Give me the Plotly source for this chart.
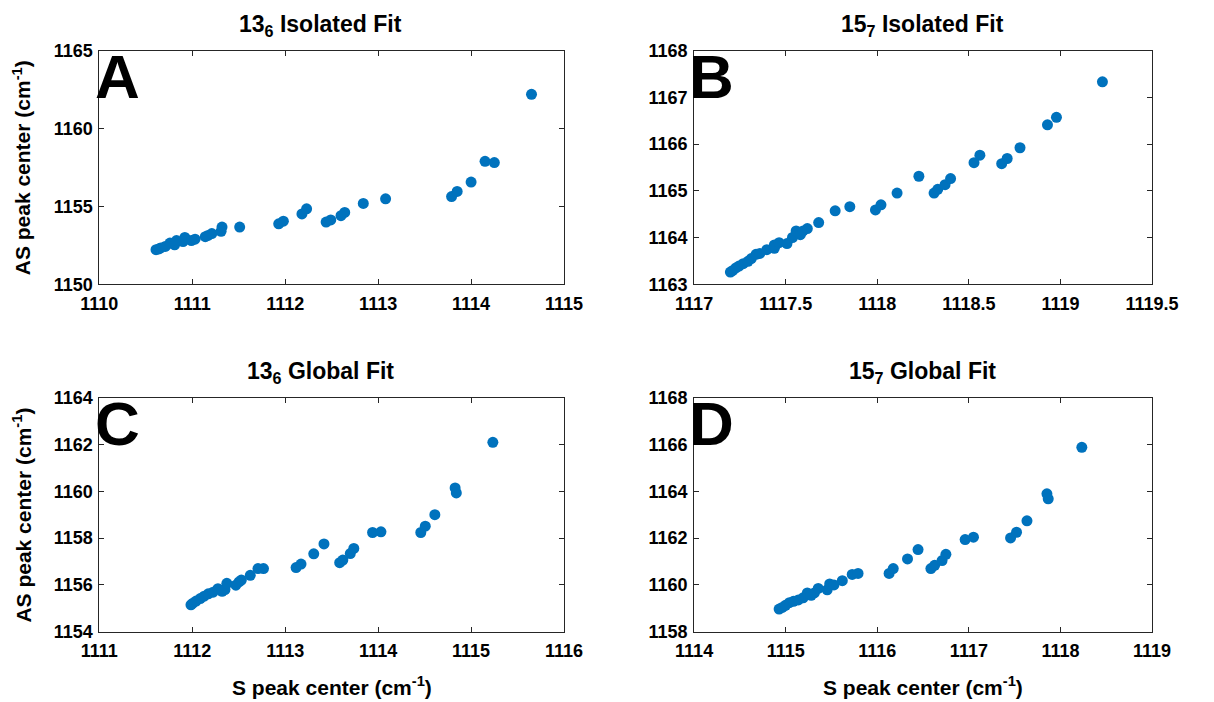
import plotly.graph_objects as go

# Panel A: 13_6 Isolated Fit
a_s = [1110.61, 1110.64, 1110.66, 1110.71, 1110.76, 1110.81, 1110.83, 1110.90, 1110.92, 1110.99,
       1111.03, 1111.14, 1111.17, 1111.21, 1111.31, 1111.32, 1111.51, 1111.93, 1111.98, 1112.18,
       1112.23, 1112.44, 1112.49, 1112.60, 1112.64, 1112.84, 1113.08, 1113.79, 1113.85, 1114.00,
       1114.15, 1114.25, 1114.65]
a_as = [1152.22, 1152.27, 1152.33, 1152.43, 1152.64, 1152.53, 1152.80, 1152.74, 1153.00, 1152.80,
        1152.89, 1153.05, 1153.13, 1153.25, 1153.40, 1153.67, 1153.67, 1153.88, 1154.05, 1154.51,
        1154.84, 1153.99, 1154.13, 1154.40, 1154.61, 1155.19, 1155.48, 1155.63, 1155.96, 1156.56,
        1157.89, 1157.81, 1162.19]

# Panel B: 15_7 Isolated Fit
b_s = [1117.198, 1117.21, 1117.228, 1117.245, 1117.268, 1117.294, 1117.312, 1117.338, 1117.359, 1117.397,
       1117.438, 1117.438, 1117.464, 1117.507, 1117.537, 1117.557, 1117.58, 1117.595, 1117.618, 1117.68,
       1117.77, 1117.85, 1117.99, 1118.02, 1118.108, 1118.227, 1118.31, 1118.33, 1118.37, 1118.40,
       1118.528, 1118.56, 1118.679, 1118.709, 1118.779, 1118.929, 1118.978, 1119.229]
b_as = [1163.26, 1163.29, 1163.35, 1163.39, 1163.44, 1163.49, 1163.55, 1163.64, 1163.66, 1163.74,
        1163.77, 1163.84, 1163.89, 1163.87, 1164.00, 1164.14, 1164.06, 1164.14, 1164.19, 1164.32,
        1164.57, 1164.66, 1164.59, 1164.70, 1164.95, 1165.31, 1164.95, 1165.03, 1165.13, 1165.26,
        1165.60, 1165.76, 1165.58, 1165.69, 1165.92, 1166.41, 1166.57, 1167.33]

# Panel C: 13_6 Global Fit
c_s = [1111.986, 1112.007, 1112.041, 1112.086, 1112.128, 1112.172, 1112.224, 1112.276, 1112.321, 1112.352,
       1112.372, 1112.469, 1112.503, 1112.528, 1112.624, 1112.707, 1112.766, 1113.117, 1113.17, 1113.307,
       1113.417, 1113.586, 1113.62, 1113.70, 1113.738, 1113.94, 1114.03, 1114.459, 1114.507, 1114.61,
       1114.828, 1114.841, 1115.234]
c_as = [1155.15, 1155.22, 1155.31, 1155.42, 1155.52, 1155.62, 1155.69, 1155.84, 1155.73, 1155.80,
        1156.07, 1155.99, 1156.13, 1156.21, 1156.41, 1156.70, 1156.70, 1156.74, 1156.89, 1157.33,
        1157.75, 1156.95, 1157.06, 1157.34, 1157.56, 1158.24, 1158.27, 1158.24, 1158.51, 1159.00,
        1160.14, 1159.93, 1162.09]

# Panel D: 15_7 Global Fit
d_s = [1114.928, 1114.963, 1114.998, 1115.04, 1115.085, 1115.138, 1115.19, 1115.236, 1115.278, 1115.313,
       1115.355, 1115.453, 1115.48, 1115.527, 1115.618, 1115.726, 1115.79, 1116.129, 1116.174, 1116.33,
       1116.445, 1116.585, 1116.626, 1116.707, 1116.749, 1116.959, 1117.05, 1117.455, 1117.52, 1117.634,
       1117.852, 1117.866, 1118.233]
d_as = [1158.97, 1159.04, 1159.13, 1159.24, 1159.30, 1159.36, 1159.45, 1159.66, 1159.56, 1159.66,
        1159.85, 1159.79, 1160.04, 1160.00, 1160.18, 1160.45, 1160.49, 1160.49, 1160.70, 1161.11,
        1161.51, 1160.70, 1160.84, 1161.04, 1161.31, 1161.94, 1162.04, 1162.01, 1162.25, 1162.74,
        1163.89, 1163.68, 1165.88]

titles = ["13<sub>6</sub> Isolated Fit", "15<sub>7</sub> Isolated Fit",
          "13<sub>6</sub> Global Fit", "15<sub>7</sub> Global Fit"]
letters = ["A", "B", "C", "D"]
x_label = "S peak center (cm<sup>-1</sup>)"
y_label = "AS peak center (cm<sup>-1</sup>)"

x_ranges = [[1110, 1115], [1117, 1119.5], [1111, 1116], [1114, 1119]]
y_ranges = [[1150, 1165], [1163, 1168], [1154, 1164], [1158, 1168]]
x_dticks = [1, 0.5, 1, 1]
y_dticks = [5, 1, 2, 2]

W, H = 1214, 702
# pixel boxes (left, right, top, bottom)
boxes = [(83.5, 566.5, 41.7, 282.3), (701.7, 1177.7, 41.7, 282.3),
         (83.5, 566.5, 399.0, 640.0), (701.7, 1177.7, 399.0, 640.0)]

COLOR = "#0072BD"
FONT = "Liberation Sans, Arial, sans-serif"
AXC = "#262626"

fig = go.Figure()
data = [(a_s, a_as), (b_s, b_as), (c_s, c_as), (d_s, d_as)]
layout = {}
for i, ((xs, ys), (l, r, t, b)) in enumerate(zip(data, boxes)):
    n = "" if i == 0 else str(i + 1)
    fig.add_trace(go.Scatter(x=xs, y=ys, mode="markers", xaxis="x" + n, yaxis="y" + n,
                             marker=dict(color=COLOR, size=11, line=dict(width=0)),
                             showlegend=False))
    common = dict(showgrid=False, zeroline=False, showline=True, linecolor=AXC, linewidth=1,
                  mirror="ticks", ticks="inside", ticklen=5, tickcolor=AXC, tickwidth=1,
                  tickformat="~g",
                  tickfont=dict(family=FONT, size=18, color="black", weight="bold"))
    xa = dict(common, domain=[l / W, r / W], range=x_ranges[i], dtick=x_dticks[i],
              tick0=x_ranges[i][0], anchor="y" + n, ticklabelstandoff=3)
    ya = dict(common, domain=[1 - b / H, 1 - t / H], range=y_ranges[i], dtick=y_dticks[i],
              tick0=y_ranges[i][0], anchor="x" + n, ticklabelstandoff=2)
    layout["xaxis" + n] = xa
    layout["yaxis" + n] = ya

annotations = []
title_cx = [313.5, 939.5, 313.5, 939.5]
for i, (l, r, t, b) in enumerate(boxes):
    annotations.append(dict(text="<b>" + titles[i] + "</b>", x=title_cx[i] / W, y=1 - (t - 9) / H,
                            xref="paper", yref="paper", xanchor="center", yanchor="bottom",
                            showarrow=False, font=dict(family=FONT, size=23, color="black")))
    annotations.append(dict(text="<b>" + letters[i] + "</b>", x=(l - 7) / W, y=1 - (t - 11) / H,
                            xref="paper", yref="paper", xanchor="left", yanchor="top",
                            showarrow=False, font=dict(family=FONT, size=62, color="black")))
    if i >= 2:
        annotations.append(dict(text="<b>" + x_label + "</b>", x=(l + r) / 2 / W, y=1 - 696 / H,
                                xref="paper", yref="paper", xanchor="center", yanchor="middle",
                                showarrow=False, font=dict(family=FONT, size=21, color="black")))
    if i % 2 == 0:
        annotations.append(dict(text="<b>" + y_label + "</b>", x=3 / W, y=1 - (t + b) / 2 / H,
                                xref="paper", yref="paper", xanchor="center", yanchor="middle",
                                textangle=-90, showarrow=False,
                                font=dict(family=FONT, size=21, color="black")))

fig.update_layout(width=W, height=H, margin=dict(l=0, r=0, t=0, b=0),
                  paper_bgcolor="white", plot_bgcolor="white",
                  annotations=annotations, **layout)

fig.write_html("out.html")
